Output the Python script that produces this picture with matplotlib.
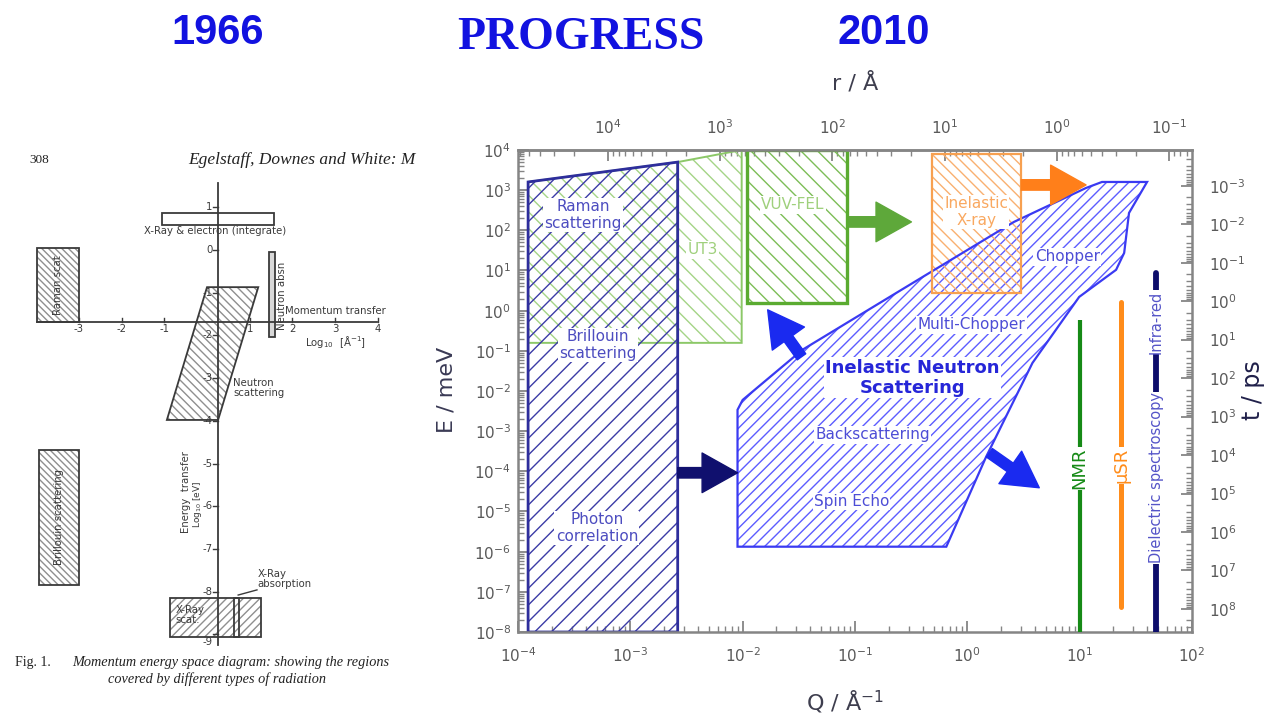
import numpy as np
import matplotlib
matplotlib.use("Agg")
import matplotlib.pyplot as plt
from matplotlib.patches import Polygon, FancyArrowPatch
from matplotlib.ticker import LogLocator, NullFormatter, FixedLocator

plt.rcParams["hatch.linewidth"] = 1.0

# ---------------- 2010 map: momentum transfer Q (1/Å) vs energy E (meV) ----------------
photon_q = [1.23e-4, 2.64e-3, 2.64e-3, 1.23e-4]
photon_e = [1600, 5000, 1e-8, 1e-8]

optical_q = [1.23e-4, 2.64e-3, 2.64e-3, 1.23e-4]
optical_e = [1600, 5000, 0.158, 0.158]

ut3_q = [2.64e-3, 9.8e-3, 9.8e-3, 2.64e-3]
ut3_e = [5000, 1e4, 0.158, 0.158]

vuv_q = [0.0109, 0.0857, 0.0857, 0.0109]
vuv_e = [1e4, 1e4, 1.56, 1.56]

ixs_q = [0.489, 3.02, 3.02, 0.489]
ixs_e = [7950, 7950, 2.77, 2.77]

ins_q = [0.0090, 0.0090, 0.010, 0.034, 0.40, 2.6, 11.4, 15.8, 39.8,
         27.5, 24.9, 21.1, 9.9, 3.8, 1.47, 0.65]
ins_e = [1.33e-6, 3.4e-3, 6.0e-3, 0.106, 6.9, 162, 1135, 1600, 1600,
         271, 27.4, 10.4, 2.2, 0.050, 2.3e-4, 1.33e-6]

# local probes: Q position and energy span
nmr_q, nmr_e = 10.0, [1e-8, 0.59]
musr_q, musr_e = 23.4, [4.1e-8, 1.66]
diel_q, diel_e = 47.9, [1e-8, 8.7]

# arrows: (Q start, E start, Q end, E end)
arrow_green = (0.089, 162, 0.318, 162)
arrow_orange = (3.02, 1350, 11.4, 1350)
arrow_navy = (2.64e-3, 9.2e-5, 9.0e-3, 9.2e-5)
arrow_up = (0.0334, 0.071, 0.0167, 1.05)
arrow_down = (1.57, 2.9e-4, 4.37, 3.9e-5)

q_lim = (1e-4, 1e2)
e_lim = (1e-8, 1e4)
t_lim = (10 ** 8.6, 10 ** -3.93)
r_ticks = [1e4, 1e3, 1e2, 1e1, 1e0, 1e-1]

# ---------------- 1966 diagram: log10 Q [1/Å] vs log10 E [eV] ----------------
xray_el_x, xray_el_y = [-1.05, 1.57], [0.59, 0.87]
raman66_x, raman66_y = [-3.98, -3.0], [-1.69, 0.05]
nabs_x, nabs_y = [1.45, 1.6], [-2.04, -0.05]
neutron66 = [(0.0, -0.87), (1.2, -0.87), (0.26, -3.98), (-0.94, -3.98)]
brill66_x, brill66_y = [-3.93, -3.0], [-7.85, -4.68]
xscat_x, xscat_y = [-0.87, 1.26], [-9.06, -8.15]
xabs_x = [0.63, 0.75]
q_axis_level = -1.69
e_axis_pos = 0.25
q_ticks = [-3, -2, -1, 1, 2, 3, 4]
e_ticks = [1, 0, -1, -2, -3, -4, -5, -6, -7, -8, -9]

W, H = 1270, 717
fig = plt.figure(figsize=(W / 100, H / 100), dpi=100)

TITLE_BLUE = "#1212e0"
fig.text(218 / W, 1 - 33 / H, "1966", fontsize=30, fontweight="bold",
         family="Liberation Sans", color=TITLE_BLUE, ha="center", va="center")
fig.text(581 / W, 1 - 38 / H, "PROGRESS", fontsize=33, fontweight="bold",
         family="Liberation Serif", color=TITLE_BLUE, ha="center", va="center")
fig.text(884 / W, 1 - 33 / H, "2010", fontsize=30, fontweight="bold",
         family="Liberation Sans", color=TITLE_BLUE, ha="center", va="center")

# =============== left panel: 1966 momentum-energy diagram ===============
ax0 = fig.add_axes([0, 1 - 690 / H, 420 / W, 540 / H])
ax0.set_xlim(-4.848, 4.988)
ax0.set_ylim(-10.304, 2.342)
ax0.axis("off")
INK = "#3a3a3a"
HATCH66 = "#8f8f8f"
FS66 = 7.3


def box66(xs, ys, hatch=None, fc="none"):
    xy = [(xs[0], ys[0]), (xs[1], ys[0]), (xs[1], ys[1]), (xs[0], ys[1])]
    if hatch:
        ax0.add_patch(Polygon(xy, closed=True, fill=False, hatch=hatch,
                              edgecolor=HATCH66, linewidth=0))
    ax0.add_patch(Polygon(xy, closed=True, facecolor=fc, edgecolor=INK, linewidth=1.3))


box66(xray_el_x, xray_el_y)
box66(raman66_x, raman66_y, hatch="\\\\\\\\\\")
box66(nabs_x, nabs_y, fc="#d8d8d8")
ax0.add_patch(Polygon(neutron66, closed=True, fill=False, hatch="\\\\\\\\",
                      edgecolor=HATCH66, linewidth=0))
ax0.add_patch(Polygon(neutron66, closed=True, fill=False, edgecolor=INK, linewidth=1.3))
box66(brill66_x, brill66_y, hatch="\\\\\\\\\\")
box66(xscat_x, xscat_y, hatch="////")
box66(xabs_x, xscat_y)

# axes of the diagram
ax0.plot([-3.98, 3.98], [q_axis_level, q_axis_level], color=INK, lw=1.3)
ax0.plot([e_axis_pos, e_axis_pos], [-9.25, 1.57], color=INK, lw=1.3)
for q in q_ticks:
    ax0.plot([q, q], [q_axis_level, q_axis_level + 0.1], color=INK, lw=1.0)
    ax0.text(q, q_axis_level - 0.05, f"{q}" if q > 0 else f"-{abs(q)}", fontsize=FS66,
             color=INK, ha="center", va="top")
for e in e_ticks:
    ax0.plot([e_axis_pos, e_axis_pos - 0.1], [e, e], color=INK, lw=1.0)
    ax0.text(e_axis_pos - 0.12, e - (0.18 if e == -9 else 0), f"{e}" if e >= 0 else f"-{abs(e)}",
             fontsize=FS66, color=INK, ha="right", va="center")

ax0.text(-4.15, 2.11, "308", fontsize=9.5, family="Liberation Serif", color="#222",
         ha="left", va="center")
ax0.text(-0.445, 2.11, "Egelstaff, Downes and White: M", fontsize=12.5,
         family="Liberation Serif", style="italic", color="#222", ha="left", va="center")
ax0.text(0.19, 0.45, "X-Ray & electron (integrate)", fontsize=FS66, color=INK,
         ha="center", va="center")
ax0.text(-3.49, -0.82, "Raman scat", fontsize=FS66, color=INK, rotation=90,
         ha="center", va="center")
ax0.text(1.75, -1.08, "Neutron absn", fontsize=FS66, color=INK, rotation=90,
         ha="center", va="center")
ax0.text(3.0, -1.42, "Momentum transfer", fontsize=FS66, color=INK, ha="center", va="center")
ax0.text(3.0, -2.15, "Log$_{10}$  [Å$^{-1}$]", fontsize=FS66, color=INK, ha="center", va="center")
ax0.text(0.61, -3.23, "Neutron\nscattering", fontsize=FS66, color=INK, ha="left",
         va="center", linespacing=1.0)
ax0.text(-3.47, -6.25, "Brillouin scattering", fontsize=FS66, color=INK, rotation=90,
         ha="center", va="center")
ax0.text(-0.49, -5.67, "Energy  transfer", fontsize=FS66, color=INK, rotation=90,
         ha="center", va="center")
ax0.text(-0.22, -5.95, "Log$_{10}$ [eV]", fontsize=FS66 - 0.8, color=INK, rotation=90,
         ha="center", va="center")
ax0.text(1.19, -7.70, "X-Ray\nabsorption", fontsize=FS66, color=INK, ha="left",
         va="center", linespacing=1.0)
ax0.plot([0.73, 1.17], [-8.08, -7.96], color=INK, lw=1.0)
ax0.text(-0.73, -8.55, "X-Ray\nscat.", fontsize=FS66, color=INK, ha="left",
         va="center", linespacing=1.0)
ax0.text(-4.5, -9.66, "Fig. 1.", fontsize=10, family="Liberation Serif", color="#222",
         ha="left", va="center")
ax0.text(-3.16, -9.66, "Momentum energy space diagram: showing the regions", fontsize=10.3,
         family="Liberation Serif", style="italic", color="#222", ha="left", va="center")
ax0.text(0.23, -10.05, "covered by different types of radiation", fontsize=10.3,
         family="Liberation Serif", style="italic", color="#222", ha="center", va="center")

# =============== right panel: 2010 map ===============
ax = fig.add_axes([518 / W, 1 - 632 / H, 674 / W, 482 / H])
ax.set_xscale("log")
ax.set_yscale("log")
ax.set_xlim(*q_lim)
ax.set_ylim(*e_lim)

SPINE = "#858585"
TICKLBL = "#5a5a5a"
for s in ax.spines.values():
    s.set_color(SPINE)
    s.set_linewidth(1.8)


def log_ticks(axis):
    axis.set_major_locator(LogLocator(base=10, numticks=30))
    axis.set_minor_locator(LogLocator(base=10, subs=np.arange(2, 10), numticks=300))
    axis.set_minor_formatter(NullFormatter())
    axis.offsetText.set_visible(False)


log_ticks(ax.xaxis)
log_ticks(ax.yaxis)
ax.tick_params(which="both", direction="in", color=SPINE, labelcolor=TICKLBL, labelsize=11)
ax.tick_params(which="major", length=8, width=1.3)
ax.tick_params(which="minor", length=4, width=1.0)
ax.tick_params(axis="x", pad=10)
ax.tick_params(axis="y", pad=5)


def region(qs, es, hatch, hcolor, ecolor, lw, z, ls="-"):
    xy = list(zip(qs, es))
    ax.add_patch(Polygon(xy, closed=True, fill=False, hatch=hatch, edgecolor=hcolor,
                         linewidth=0, zorder=z))
    ax.add_patch(Polygon(xy, closed=True, fill=False, edgecolor=ecolor, linewidth=lw,
                         linestyle=ls, zorder=z + 0.1))


region(optical_q, optical_e, "\\\\", "#a4d486", "#8cc868", 1.4, 1)
region(ut3_q, ut3_e, "\\\\", "#a4d486", "#8cc868", 1.4, 1)
region(photon_q, photon_e, "//", "#3b3ba6", "#2e2e9c", 2.0, 2)
region(vuv_q, vuv_e, "\\\\", "#7cbd57", "#5aab30", 2.4, 2)
region(ins_q, ins_e, "///", "#5c5cff", "#3a3af2", 1.6, 3)
region(ixs_q, ixs_e, "\\\\\\", "#f9b070", "#f7a050", 1.6, 3)


def arrow(spec, color):
    q0, e0, q1, e1 = spec
    ax.add_patch(FancyArrowPatch((q0, e0), (q1, e1),
                                 arrowstyle="simple,head_length=0.85,head_width=0.95,tail_width=0.25",
                                 mutation_scale=30, color=color, shrinkA=0, shrinkB=0,
                                 zorder=6))


arrow(arrow_green, "#5ea83a")
arrow(arrow_orange, "#ff7f1a")
arrow(arrow_navy, "#10106e")
arrow(arrow_up, "#1a2af0")
arrow(arrow_down, "#1a2af0")

ax.plot([nmr_q, nmr_q], nmr_e, color="#168a16", lw=3.0, solid_capstyle="butt", zorder=5)
ax.plot([musr_q, musr_q], musr_e, color="#ff8c1a", lw=3.6, solid_capstyle="round", zorder=5)
ax.plot([diel_q, diel_q], diel_e, color="#0d0d6b", lw=4.2, solid_capstyle="round", zorder=5)

WHITE = dict(boxstyle="square,pad=0.08", fc="white", ec="none")
TIGHT = dict(boxstyle="square,pad=0.05", fc="white", ec="none")
LBL_BLUE = "#4d4dd6"


def label(q, e, s, color, size=11, **kw):
    kw.setdefault("bbox", WHITE)
    ax.text(q, e, s, color=color, fontsize=size, ha="center", va="center",
            linespacing=1.15, zorder=7, **kw)


label(3.79e-4, 241, "Raman\nscattering", "#4d4dc0")
label(5.14e-4, 0.141, "Brillouin\nscattering", "#4d4dc0")
label(5.04e-4, 3.95e-6, "Photon\ncorrelation", "#4d4dc0")
label(4.4e-3, 32.5, "UT3", "#9fd07c")
label(0.0278, 429, "VUV-FEL", "#9fd07c")
label(1.2, 287, "Inelastic\nX-ray", "#f9a860")
label(7.74, 21.8, "Chopper", LBL_BLUE)
label(1.09, 0.444, "Multi-Chopper", LBL_BLUE)
label(0.324, 0.0213, "Inelastic Neutron\nScattering", "#2626d8", size=13, fontweight="bold")
label(0.143, 8.1e-4, "Backscattering", LBL_BLUE)
label(0.093, 1.75e-5, "Spin Echo", LBL_BLUE)
label(nmr_q, 1.2e-4, "NMR", "#168a16", size=13, rotation=90, bbox=TIGHT)
label(musr_q, 1.38e-4, "μSR", "#ff8c1a", size=13, rotation=90, bbox=TIGHT)
label(diel_q, 0.52, "Infra-red", "#5555c8", size=10.5, rotation=90, bbox=TIGHT)
label(diel_q, 6.9e-5, "Dielectric spectroscopy", "#5555c8", size=10.5, rotation=90,
      bbox=TIGHT)


# top axis: real-space length r = 2π/Q
def q_to_r(x):
    x = np.asarray(x, dtype=float)
    return 2 * np.pi / np.clip(x, 1e-300, None)


secx = ax.secondary_xaxis("top", functions=(q_to_r, q_to_r))
log_ticks(secx.xaxis)
secx.xaxis.set_major_locator(FixedLocator(r_ticks))
secx.tick_params(which="both", direction="in", color=SPINE, labelcolor=TICKLBL,
                 labelsize=11, pad=9)
secx.tick_params(which="major", length=8, width=1.3)
secx.tick_params(which="minor", length=4, width=1.0)
secx.spines["top"].set_color(SPINE)
secx.spines["top"].set_linewidth(1.8)

# right axis: time scale t
axt = ax.twinx()
axt.set_yscale("log")
axt.set_ylim(*t_lim)
log_ticks(axt.yaxis)
axt.tick_params(which="both", direction="in", color=SPINE, labelcolor=TICKLBL,
                labelsize=11, pad=12)
axt.tick_params(which="major", length=8, width=1.3)
axt.tick_params(which="minor", length=4, width=1.0)
for s in axt.spines.values():
    s.set_visible(False)

fig.text(447 / W, 1 - 390 / H, "E / meV", fontsize=16, color="#3a3a55", rotation=90,
         ha="center", va="center")
fig.text(845 / W, 1 - 702 / H, "Q / Å$^{\\mathregular{-1}}$", fontsize=16, color="#3e3e4e",
         ha="center", va="center")
fig.text(855 / W, 1 - 83 / H, "r / Å", fontsize=16, color="#3e3e4e", ha="center", va="center")
fig.text(1253 / W, 1 - 390 / H, "t / ps", fontsize=17, color="#20204a", rotation=90,
         ha="center", va="center")

fig.savefig("out.png", dpi=100)
